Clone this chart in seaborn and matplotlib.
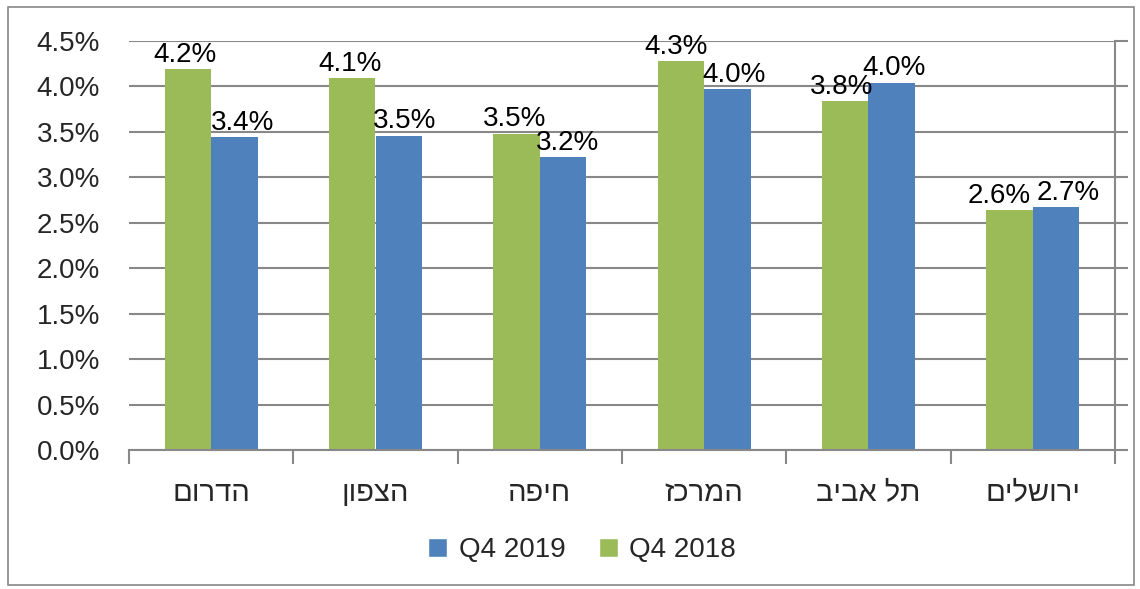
import matplotlib
matplotlib.use("Agg")
import matplotlib.pyplot as plt
import seaborn as sns
import pandas as pd
import numpy as np
from matplotlib.patches import Rectangle, Patch
from matplotlib.ticker import FuncFormatter, FixedLocator

regions = ["הדרום", "הצפון", "חיפה", "המרכז", "תל אביב", "ירושלים"]
q4_2018 = [4.19, 4.09, 3.48, 4.28, 3.84, 2.64]
q4_2019 = [3.44, 3.46, 3.22, 3.97, 4.04, 2.67]
series_names = ["Q4 2018", "Q4 2019"]
colors = {"Q4 2018": "#9BBB59", "Q4 2019": "#4F81BD"}

sns.set_theme(style="white")
plt.rcParams['font.family'] = ['Liberation Sans', 'DejaVu Sans']
FS = 20

df = pd.DataFrame({
    "region": regions * 2,
    "value": q4_2018 + q4_2019,
    "series": [series_names[0]] * len(regions) + [series_names[1]] * len(regions),
})

fig = plt.figure(figsize=(11.4, 5.89), dpi=100)
fig.patches.append(Rectangle((8/1140, 4/589), 1 - 14/1140, 1 - 11/589, transform=fig.transFigure,
                             fill=False, edgecolor="#888888", linewidth=1.2))
ax = fig.add_axes([129/1140, 1 - 450/589, (1115 - 129)/1140, (450 - 41)/589])

sns.barplot(data=df, x="region", y="value", hue="series", hue_order=series_names,
            order=regions, palette=colors, width=0.566, saturation=1, ax=ax,
            legend=False, errorbar=None, linewidth=0)

# horizontal label nudges in pixels (to mimic Excel's collision avoidance)
nudges = {
    "Q4 2018": [-3, -2, -2, -5, -4, -10],
    "Q4 2019": [8, 6, 4, 7, 2, 12],
}
for cont, name in zip(ax.containers, series_names):
    for bar, v, dx in zip(cont.patches, cont.datavalues, nudges[name]):
        ax.annotate(f"{v:.1f}%", xy=(bar.get_x() + bar.get_width() / 2, bar.get_height()),
                    xytext=(dx * 0.72, 1), textcoords="offset points",
                    ha="center", va="bottom", fontsize=FS, color="black")

ax.set_ylim(0, 4.5)
ax.set_xlim(-0.5, len(regions) - 0.5)
ax.set_yticks(np.arange(0, 4.51, 0.5))
ax.yaxis.set_major_formatter(FuncFormatter(lambda v, p: f"{v:.1f}%"))
ax.grid(axis="y", color="#888888", linewidth=1.5)
ax.set_axisbelow(True)
for s in ["top", "left"]:
    ax.spines[s].set_visible(False)
for s in ["right", "bottom"]:
    ax.spines[s].set_color("#888888")
    ax.spines[s].set_linewidth(1.5)
ax.tick_params(axis="y", left=False, right=True, labelleft=True, labelright=False,
               direction="out", length=9, width=1.5, color="#888888", labelsize=FS, pad=12)

ax.set_xticks(range(len(regions)))
ax.set_xticklabels([r[::-1] for r in regions], fontsize=21)
ax.tick_params(axis="x", which="major", length=0, pad=21)
ax.xaxis.set_minor_locator(FixedLocator(np.arange(-0.5, len(regions), 1.0)))
ax.tick_params(axis="x", which="minor", bottom=True, length=10, width=1.5, color="#888888", direction="out")
ax.set_xlabel("")
ax.set_ylabel("")

handles = [Patch(facecolor=colors["Q4 2019"]), Patch(facecolor=colors["Q4 2018"])]
fig.legend(handles, ["Q4 2019", "Q4 2018"], loc="center", bbox_to_anchor=(582/1140, 1 - 550/589),
           ncol=2, frameon=False, fontsize=FS, handlelength=0.7, handleheight=0.7,
           handletextpad=0.4, columnspacing=1.2)

fig.savefig("out.png", dpi=100)
